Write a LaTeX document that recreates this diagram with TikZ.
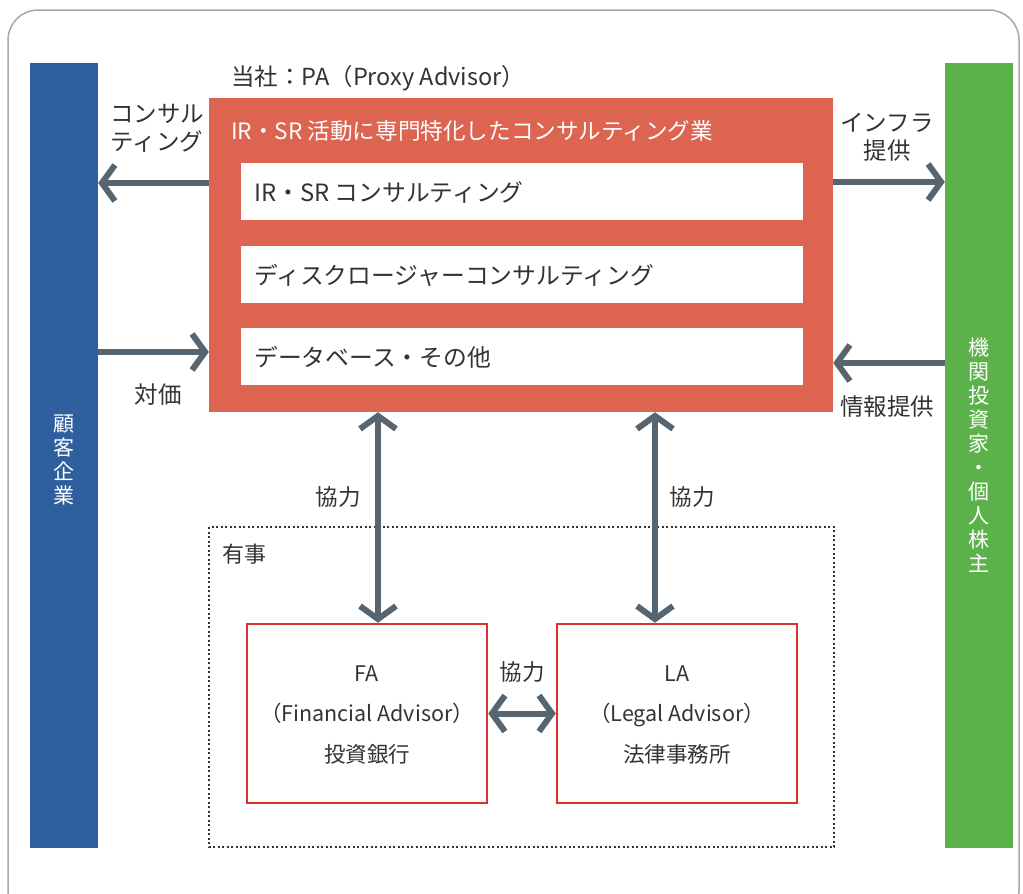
\documentclass[tikz,border=0pt]{standalone}
\usepackage{fontspec}
\setmainfont{Noto Sans CJK JP}
\usetikzlibrary{arrows.meta}
\definecolor{frameg}{HTML}{A8A8A8}
\definecolor{barblue}{HTML}{2F5F9E}
\definecolor{bargreen}{HTML}{5BB24B}
\definecolor{boxred}{HTML}{DC6450}
\definecolor{linered}{HTML}{D9342F}
\definecolor{arrowgray}{HTML}{56656F}
\definecolor{txt}{HTML}{333333}
\tikzset{
  x=1pt, y=-1pt,
  lbl/.style={font=\fontsize{23.5}{28}\selectfont, text=txt, inner sep=0pt, align=center},
  arr/.style={draw=arrowgray, line width=6pt, -{Straight Barb[length=13pt,width=36pt]}},
  darr/.style={draw=arrowgray, line width=6pt, {Straight Barb[length=13pt,width=36pt]}-{Straight Barb[length=13pt,width=36pt]}},
  vbar/.style={draw=none, minimum width=68pt, minimum height=785pt, inner sep=0pt},
  vtext/.style={font=\fontsize{21}{24}\selectfont, text=white, align=center, inner sep=0pt},
  inbox/.style={fill=white, draw=none, minimum width=562pt, minimum height=57pt, inner sep=0pt},
  intext/.style={font=\fontsize{23.8}{28}\selectfont, text=txt, anchor=west, inner sep=0pt},
  advbox/.style={draw=linered, line width=2.5pt, fill=white, minimum width=240pt, minimum height=179pt, inner sep=0pt},
}
\begin{document}
\begin{tikzpicture}
\useasboundingbox (0,0) rectangle (1023,894);
\begin{scope}
\clip (0,0) rectangle (1023,894);
\draw[frameg, line width=1.5pt, rounded corners=30pt] (8,10) rectangle (1019,920);
\end{scope}

% side bars
\node[vbar, fill=barblue] (blue) at (64,455.5) {};
\node[vtext] (bluet) at (64,460) {顧\\客\\企\\業};
\node[vbar, fill=bargreen] (green) at (979,455.5) {};
\node[vtext] (greent) at (979,455) {機\\関\\投\\資\\家\\・\\個\\人\\株\\主};

% PA box
\node[lbl, anchor=west, font=\fontsize{23.5}{28}\selectfont] (patitle) at (231,78) {当社：PA（Proxy Advisor）};
\node[fill=boxred, minimum width=624pt, minimum height=314pt, inner sep=0pt] (red) at (521,255) {};
\node[font=\fontsize{22.6}{26}\selectfont, text=white, anchor=west, inner sep=0pt] (redt) at (231,131) {IR・SR 活動に専門特化したコンサルティング業};
\node[inbox] (b1) at (522,191.5) {};
\node[inbox] (b2) at (522,274.5) {};
\node[inbox] (b3) at (522,356.5) {};
\node[intext] (t1) at (254,192) {IR・SR コンサルティング};
\node[intext] (t2) at (254,275) {ディスクロージャーコンサルティング};
\node[intext] (t3) at (254,357) {データベース・その他};

% side arrows
\coordinate (ya) at (0,183);
\coordinate (yb) at (0,352);
\coordinate (yc) at (0,182);
\coordinate (yd) at (0,363);
\draw[arr] (red.west |- ya) -- (blue.east |- ya);
\draw[arr] (blue.east |- yb) -- (red.west |- yb);
\draw[arr] (red.east |- yc) -- (green.west |- yc);
\draw[arr] (green.west |- yd) -- (red.east |- yd);
\node[lbl] (l1) at (157,128) {コンサル\\ティング};
\node[lbl] (l2) at (158,395) {対価};
\node[lbl] (l3) at (887,137) {インフラ\\提供};
\node[lbl] (l4) at (887,407) {情報提供};

% lower area
\draw[txt, line width=1.6pt, dash pattern=on 2pt off 2.5pt] (209,527) rectangle (834,847);
\node[lbl, anchor=west, font=\fontsize{22}{26}\selectfont] (yuji) at (222,554) {有事};
\node[advbox] (fa) at (367,713.5) {};
\node[advbox] (la) at (677,713.5) {};
\node[lbl, font=\fontsize{21.5}{40.5}\selectfont] (fat) at (367,715) {FA\\（Financial Advisor）\\投資銀行};
\node[lbl, font=\fontsize{21.5}{40.5}\selectfont] (lat) at (677,715) {LA\\（Legal Advisor）\\法律事務所};

\coordinate (xa) at (378,0);
\coordinate (xb) at (655,0);
\draw[darr] (red.south -| xa) -- (fa.north -| xa);
\draw[darr] (red.south -| xb) -- (la.north -| xb);
\draw[darr] (fa.east) -- (la.west);
\node[lbl, font=\fontsize{22.5}{26}\selectfont] (k1) at (338,497) {協力};
\node[lbl, font=\fontsize{22.5}{26}\selectfont] (k2) at (692,497) {協力};
\node[lbl, font=\fontsize{22.5}{26}\selectfont] (k3) at (522,672) {協力};
\end{tikzpicture}
\end{document}
